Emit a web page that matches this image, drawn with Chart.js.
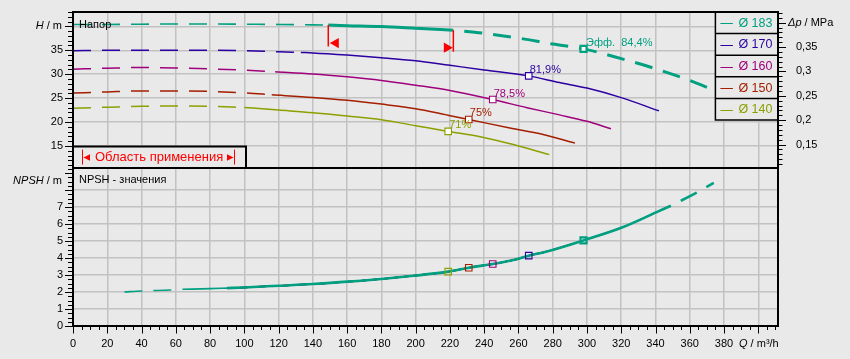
<!DOCTYPE html>
<html><head><meta charset="utf-8">
<script src="https://cdn.jsdelivr.net/npm/chart.js@4.4.1/dist/chart.umd.min.js"></script>
<style>
html,body{margin:0;padding:0;background:#e9e9e9;width:850px;height:359px;overflow:hidden;}
#top{position:absolute;left:0;top:0;}
#bot{position:absolute;left:0;top:160px;}
</style></head><body>
<canvas id="top" width="850" height="176"></canvas>
<canvas id="bot" width="850" height="199"></canvas>
<script>
// ---------- data ----------
const diameters = ['Ø 183','Ø 170','Ø 160','Ø 150','Ø 140'];
const colors = ['#00a080','#2c00a0','#a0007c','#a41e00','#8ca000'];

const q183 = [0,20,40,60,80,100,120,140,149,160,180,200,222,240,260,280,298,320,340,360,375];
const h183 = [40.4,40.4,40.45,40.5,40.5,40.45,40.4,40.3,40.27,40.15,39.95,39.6,39.2,38.55,37.55,36.3,35.3,33.25,31.15,28.7,26.5];
const q170 = [0,20,40,60,80,100,120,133,140,160,180,200,220,240,266,284,300,320,342];
const h170 = [34.9,35.0,35.0,35.0,35.0,34.9,34.7,34.55,34.45,34.0,33.45,32.8,31.85,30.9,29.65,28.25,27.1,25.1,22.35];
const q160 = [0,20,40,60,80,100,118,140,160,180,200,220,245,265,284,300,314];
const h160 = [31.05,31.25,31.4,31.3,31.1,30.85,30.5,30.05,29.45,28.7,27.7,26.6,24.7,23.0,21.5,20.15,18.6];
const q150 = [0,20,40,60,80,100,116,140,160,180,200,218,231,255,275,293];
const h150 = [26.05,26.3,26.5,26.5,26.4,26.1,25.7,25.15,24.55,23.75,22.8,21.5,20.55,18.75,17.35,15.6];
const q140 = [0,20,40,60,80,100,120,140,160,180,200,219,237,257,278];
const h140 = [22.9,23.1,23.3,23.35,23.3,23.05,22.5,21.95,21.25,20.5,19.25,18.05,17.0,15.3,13.2];

const solidFromQ = [149,133,118,116,100];     // dashed below this flow
const endQ = [375,342,314,293,278];

const rangeQ = [149,222];                     // Область применения
const rangeTopH = [40.27,39.2];
const rangeBotH = [35.77,34.7];
const arrowQ = [153.4,218.2];
const arrowH = [36.5,35.55];

const effQ = [298,266,245,231,219];
const effH = [35.3,29.65,24.7,20.55,18.05];
const effNpsh = [5.04,4.14,3.65,3.43,3.2];
const effLabels = ['Эфф.  84,4%','81,9%','78,5%','75%','71%'];

const npshQ = [30,40,57,64,80,90,100,120,140,160,180,200,219,231,245,257,266,276,298,320,340,349,355,364,374];
const npshV = [2.0,2.06,2.12,2.16,2.2,2.23,2.27,2.37,2.47,2.61,2.77,2.97,3.2,3.43,3.65,3.88,4.14,4.37,5.04,5.78,6.67,7.08,7.38,7.85,8.42];
const npshSplit = [64,90,349];

const Q_MAX = 411.5, H_MIN = 10.4, H_MAX = 43.0;
const DP_MIN = 0.102, DP_MAX = 0.4218, NPSH_MAX = 9.3;

// ---------- helpers ----------
const BG = '#e9e9e9', GRID = '#c2c2c2';
const FONT = '"Liberation Sans", Arial, sans-serif';
Chart.defaults.font.family = FONT;
Chart.defaults.font.size = 11;
Chart.defaults.color = '#000';

function pairs(qs, vs, lo, hi) {
  const out = [];
  for (let i = 0; i < qs.length; i++) if (qs[i] >= lo - 1e-9 && qs[i] <= hi + 1e-9) out.push({x: qs[i], y: vs[i]});
  return out;
}
function line(data, color, width, order, extra) {
  return Object.assign({data, borderColor: color, backgroundColor: color, borderWidth: width, pointRadius: 0,
    cubicInterpolationMode: 'monotone', fill: false, order}, extra || {});
}
function fitW(w) { return s => { s.width = w; s.paddingTop = 0; s.paddingBottom = 0; s.paddingLeft = 0; s.paddingRight = 0; }; }
function fitH(h) { return s => { s.height = h; s.paddingTop = 0; s.paddingBottom = 0; s.paddingLeft = 0; s.paddingRight = 0; }; }
function tickMarks(ctx, scale, step, major, pos, lenMaj, lenMin) {
  const ca = scale.chart.chartArea;
  ctx.save(); ctx.strokeStyle = '#000'; ctx.lineWidth = 1; ctx.beginPath();
  const s = Math.ceil(scale.min / step - 1e-6), e = Math.floor(scale.max / step + 1e-6);
  for (let i = s; i <= e; i++) {
    const v = i * step;
    const isMaj = Math.abs(v / major - Math.round(v / major)) < 1e-6;
    const L = isMaj ? lenMaj : lenMin;
    const p = Math.round(scale.getPixelForValue(v)) + 0.5;
    if (pos === 'left') { ctx.moveTo(ca.left - L, p); ctx.lineTo(ca.left, p); }
    else if (pos === 'right') { ctx.moveTo(ca.right, p); ctx.lineTo(ca.right + L, p); }
    else { ctx.moveTo(p, ca.bottom); ctx.lineTo(p, ca.bottom + L); }
  }
  ctx.stroke(); ctx.restore();
}
function frame(ctx, ca) {
  ctx.save(); ctx.strokeStyle = '#000'; ctx.lineWidth = 2;
  ctx.strokeRect(ca.left, ca.top, ca.right - ca.left, ca.bottom - ca.top); ctx.restore();
}
function mixText(ctx, parts, x, y, align, size) {
  ctx.save(); ctx.textBaseline = 'middle'; ctx.fillStyle = '#000'; ctx.textAlign = 'left';
  const fonts = parts.map(p => (p[1] ? 'italic ' : '') + size + 'px ' + FONT);
  const widths = parts.map((p, i) => { ctx.font = fonts[i]; return ctx.measureText(p[0]).width; });
  let cx = align === 'right' ? x - widths.reduce((a, b) => a + b, 0) : x;
  parts.forEach((p, i) => { ctx.font = fonts[i]; ctx.fillText(p[0], cx, y); cx += widths[i]; });
  ctx.restore();
}

// ---------- top chart (H) ----------
const topSets = [];
topSets.push({data: effQ.map((q, i) => ({x: q, y: effH[i]})), showLine: false, pointStyle: 'rect',
  pointRadius: effQ.map((q, i) => i === 0 ? 4.3 : 4.6), pointBorderWidth: effQ.map((q, i) => i === 0 ? 2.2 : 1.1),
  pointBorderColor: colors, pointBackgroundColor: '#ffffff', order: 0});
topSets.push({data: arrowQ.map((q, i) => ({x: q, y: arrowH[i]})), showLine: false, pointStyle: 'triangle',
  pointRotation: [270, 90], pointRadius: 6, pointBorderWidth: 0, pointBackgroundColor: '#ff0000', pointBorderColor: '#ff0000', order: 0});
rangeQ.forEach((q, i) => topSets.push(line([{x: q, y: rangeTopH[i]}, {x: q, y: rangeBotH[i]}], '#ff0000', 1.5, 0,
  {cubicInterpolationMode: 'default', tension: 0})));
const curvesQ = [q183, q170, q160, q150, q140], curvesH = [h183, h170, h160, h150, h140];
// Ø 183
topSets.push(line(pairs(q183, h183, 0, rangeQ[0]), colors[0], 1.6, 1, {borderDash: [18, 11]}));
topSets.push(line(pairs(q183, h183, rangeQ[0], rangeQ[1]), colors[0], 3, 1));
topSets.push(line(pairs(q183, h183, rangeQ[1], Infinity), colors[0], 3, 1, {borderDash: [18, 11], borderDashOffset: 18}));
for (let i = 1; i < 5; i++) {
  topSets.push(line(pairs(curvesQ[i], curvesH[i], 0, solidFromQ[i]), colors[i], 1.5, i + 1, {borderDash: [18, 11]}));
  topSets.push(line(pairs(curvesQ[i], curvesH[i], solidFromQ[i], Infinity), colors[i], 1.5, i + 1));
}

const topPlugin = {
  id: 'topDeco',
  afterDraw(chart) {
    const ctx = chart.ctx, ca = chart.chartArea, xs = chart.scales.x, ys = chart.scales.y;
    tickMarks(ctx, ys, 1, 5, 'left', 8, 5);
    tickMarks(ctx, chart.scales.dp, 0.01, 0.05, 'right', 8, 4.5);
    // efficiency labels
    ctx.save(); ctx.font = '11px ' + FONT; ctx.textBaseline = 'alphabetic'; ctx.textAlign = 'left';
    effQ.forEach((q, i) => {
      ctx.fillStyle = colors[i];
      ctx.fillText(effLabels[i], xs.getPixelForValue(q) + (i === 0 ? 2.5 : 1), ys.getPixelForValue(effH[i]) - 3);
    });
    ctx.restore();
    // legend box
    ctx.save();
    const lw = 62.6, rh = 21.6, lx = ca.right - lw, ly = ca.top;
    ctx.fillStyle = BG; ctx.fillRect(lx, ly, lw, rh * 5);
    ctx.strokeStyle = '#000'; ctx.lineWidth = 1.5;
    ctx.strokeRect(lx, ly, lw, rh * 5);
    for (let i = 1; i < 5; i++) { ctx.beginPath(); ctx.moveTo(lx, ly + rh * i); ctx.lineTo(ca.right, ly + rh * i); ctx.stroke(); }
    ctx.font = '12.5px ' + FONT; ctx.textBaseline = 'middle';
    diameters.forEach((d, i) => {
      const cy = ly + rh * i + rh / 2 + 0.5;
      ctx.strokeStyle = colors[i]; ctx.lineWidth = 1;
      ctx.beginPath(); ctx.moveTo(lx + 5, Math.round(cy) + 0.5); ctx.lineTo(lx + 17.5, Math.round(cy) + 0.5); ctx.stroke();
      ctx.fillStyle = colors[i]; ctx.fillText(d, lx + 23, cy);
    });
    ctx.restore();
    // Область применения box
    ctx.save();
    const bx = ca.left, bw = 173, bh = 21.5, by = ca.bottom - bh;
    ctx.fillStyle = BG; ctx.fillRect(bx, by, bw, bh);
    ctx.strokeStyle = '#000'; ctx.lineWidth = 2; ctx.strokeRect(bx, by, bw, bh);
    const cy = by + bh / 2 + 0.3;
    ctx.strokeStyle = '#ff0000'; ctx.fillStyle = '#ff0000'; ctx.lineWidth = 1;
    ctx.beginPath(); ctx.moveTo(bx + 9.5, cy - 8); ctx.lineTo(bx + 9.5, cy + 7); ctx.stroke();
    ctx.beginPath(); ctx.moveTo(bx + 10.5, cy); ctx.lineTo(bx + 17, cy - 3.2); ctx.lineTo(bx + 17, cy + 3.2); ctx.closePath(); ctx.fill();
    ctx.beginPath(); ctx.moveTo(bx + 161.5, cy - 8); ctx.lineTo(bx + 161.5, cy + 7); ctx.stroke();
    ctx.beginPath(); ctx.moveTo(bx + 160.5, cy); ctx.lineTo(bx + 154, cy - 3.2); ctx.lineTo(bx + 154, cy + 3.2); ctx.closePath(); ctx.fill();
    ctx.font = '13px ' + FONT; ctx.textBaseline = 'middle'; ctx.textAlign = 'left';
    ctx.fillText('Область применения', bx + 22, cy);
    ctx.restore();
    frame(ctx, ca);
    // titles
    mixText(ctx, [['H', true], [' / m', false]], ca.left - 11, ys.getPixelForValue(40), 'right', 11);
    mixText(ctx, [['Δp', true], [' / MPa', false]], ca.right + 10, chart.scales.dp.getPixelForValue(0.4), 'left', 11);
    mixText(ctx, [['Напор', false]], ca.left + 6, 24.7, 'left', 11);
  }
};

new Chart(document.getElementById('top'), {
  type: 'line',
  data: {datasets: topSets},
  options: {
    responsive: false, animation: false, devicePixelRatio: 1,
    layout: {padding: {top: 12, left: 0, right: 0, bottom: 0}},
    plugins: {legend: {display: false}, tooltip: {enabled: false}},
    scales: {
      x: {type: 'linear', min: 0, max: Q_MAX, position: 'bottom',
        ticks: {display: false, stepSize: 20, includeBounds: false},
        grid: {color: GRID, lineWidth: 1.5, drawTicks: false}, border: {display: false},
        afterFit: fitH(8)},
      y: {type: 'linear', position: 'left', min: H_MIN, max: H_MAX,
        ticks: {stepSize: 5, includeBounds: false, padding: 10, callback: v => v >= 40 ? '' : String(v)},
        grid: {color: GRID, lineWidth: 1.5, drawTicks: false}, border: {display: false},
        afterFit: fitW(73)},
      dp: {type: 'linear', position: 'right', min: DP_MIN, max: DP_MAX,
        ticks: {stepSize: 0.05, includeBounds: false, padding: 10,
          callback: v => v > 0.375 ? '' : String(Math.round(v * 100) / 100).replace('.', ',')},
        grid: {display: false}, border: {display: false},
        afterFit: fitW(72)}
    }
  },
  plugins: [topPlugin]
});

// ---------- bottom chart (NPSH) ----------
const botSets = [];
botSets.push({data: effQ.map((q, i) => ({x: q, y: effNpsh[i]})), showLine: false, pointStyle: 'rect',
  pointRadius: effQ.map((q, i) => i === 0 ? 4.3 : 4.6), pointBorderWidth: effQ.map((q, i) => i === 0 ? 2.2 : 1.1),
  pointBorderColor: colors, pointBackgroundColor: 'rgba(0,0,0,0)', order: 0});
botSets.push(line(pairs(npshQ, npshV, 0, npshSplit[0]), colors[0], 1.6, 1, {borderDash: [18, 11]}));
botSets.push(line(pairs(npshQ, npshV, npshSplit[0], npshSplit[1]), colors[0], 1.6, 1));
botSets.push(line(pairs(npshQ, npshV, npshSplit[1], npshSplit[2]), colors[0], 2.6, 1));
botSets.push(line(pairs(npshQ, npshV, npshSplit[2], Infinity), colors[0], 2.6, 1, {borderDash: [18, 11], borderDashOffset: 18}));
for (let i = 1; i < 5; i++) botSets.push(line(pairs(npshQ, npshV, npshSplit[1], endQ[i]), colors[i], 1.5, i + 1));

const botPlugin = {
  id: 'botDeco',
  afterDraw(chart) {
    const ctx = chart.ctx, ca = chart.chartArea, ys = chart.scales.y;
    tickMarks(ctx, ys, 0.25, 1, 'left', 8, 5);
    tickMarks(ctx, chart.scales.x, 5, 20, 'bottom', 7.5, 4);
    frame(ctx, ca);
    mixText(ctx, [['NPSH', true], [' / m', false]], ca.left - 11, ca.top + 13, 'right', 11);
    mixText(ctx, [['NPSH - значения', false]], ca.left + 6, ca.top + 12, 'left', 11);
    mixText(ctx, [['Q', true], [' / m³/h', false]], ca.right - 39, ca.bottom + 18, 'left', 11);
  }
};

new Chart(document.getElementById('bot'), {
  type: 'line',
  data: {datasets: botSets},
  options: {
    responsive: false, animation: false, devicePixelRatio: 1,
    layout: {padding: {top: 8, left: 0, right: 72, bottom: 0}},
    plugins: {legend: {display: false}, tooltip: {enabled: false}},
    scales: {
      x: {type: 'linear', min: 0, max: Q_MAX, position: 'bottom',
        ticks: {stepSize: 20, includeBounds: false, padding: 11, maxRotation: 0, autoSkip: false,
          callback: v => v >= 400 ? '' : String(v)},
        grid: {color: GRID, lineWidth: 1.5, drawTicks: false}, border: {display: false},
        afterFit: fitH(33)},
      y: {type: 'linear', position: 'left', min: 0, max: NPSH_MAX,
        ticks: {stepSize: 1, includeBounds: false, padding: 10, callback: v => v >= 8 ? '' : String(v)},
        grid: {color: c => (c.tick && c.tick.value > 8.5) ? 'rgba(0,0,0,0)' : GRID, lineWidth: 1.5, drawTicks: false},
        border: {display: false},
        afterFit: fitW(73)}
    }
  },
  plugins: [botPlugin]
});
</script>
</body></html>
